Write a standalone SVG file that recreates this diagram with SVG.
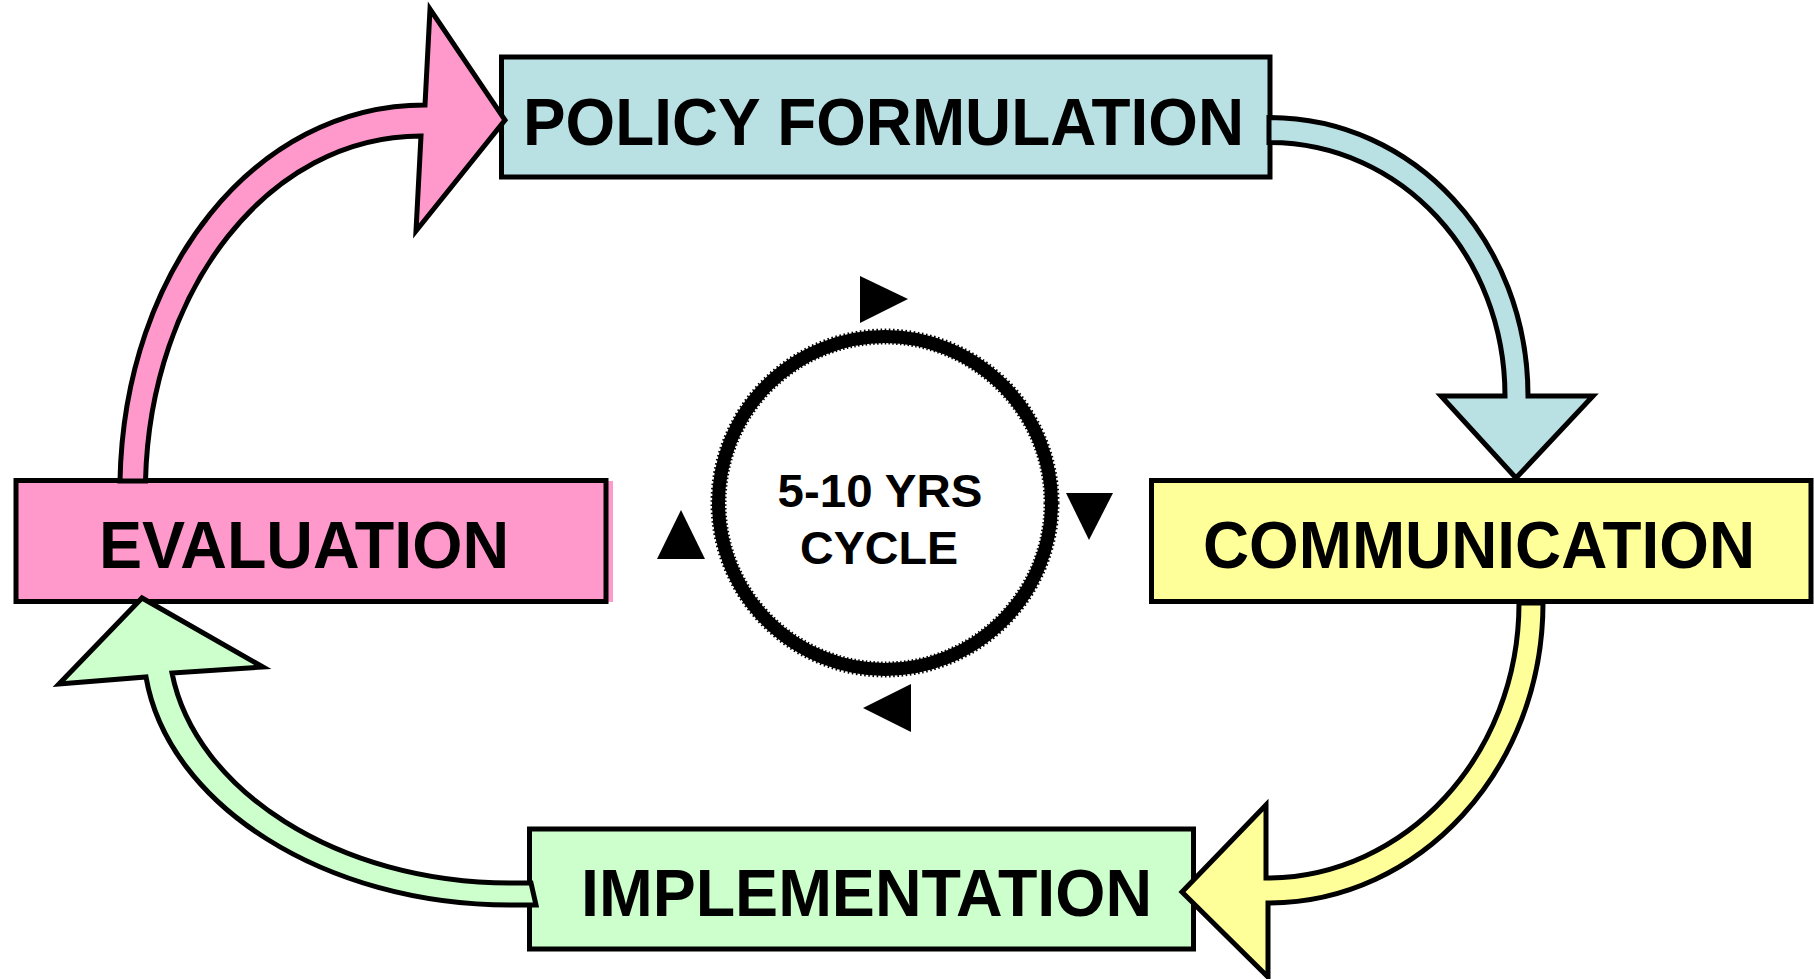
<svg xmlns="http://www.w3.org/2000/svg" width="1814" height="979" viewBox="0 0 1814 979">
<style>
.box{stroke:#000;stroke-width:5;}
.lbl{font-family:"Liberation Sans",Arial,Helvetica,sans-serif;font-weight:bold;font-size:66px;fill:#000;text-anchor:middle;}
.mid{font-family:"Liberation Sans",Arial,Helvetica,sans-serif;font-weight:bold;font-size:47px;fill:#000;text-anchor:middle;}
.arr{stroke:#000;stroke-width:5;stroke-linejoin:miter;stroke-miterlimit:10;}
.tri{fill:#000;}
</style>
<rect width="1814" height="979" fill="#fff"/>
<g id="node-policy">
<rect class="box" x="501.5" y="57" width="768.5" height="120" fill="#B9E0E3"/>
<text class="lbl" x="883.5" y="145" textLength="721" lengthAdjust="spacingAndGlyphs">POLICY FORMULATION</text>
</g>
<g id="node-communication">
<rect class="box" x="1151.5" y="480.5" width="659.5" height="121" fill="#FFFF99"/>
<text class="lbl" x="1479" y="568" textLength="552" lengthAdjust="spacingAndGlyphs">COMMUNICATION</text>
</g>
<g id="node-evaluation">
<rect x="608" y="481" width="5" height="121" fill="#FF99CC"/>
<rect class="box" x="16" y="480.5" width="590" height="121" fill="#FF99CC"/>
<text class="lbl" x="304" y="568" textLength="410" lengthAdjust="spacingAndGlyphs">EVALUATION</text>
</g>
<g id="node-implementation">
<rect class="box" x="529.5" y="829" width="664" height="120" fill="#CCFFCC"/>
<text class="lbl" x="866.5" y="916" textLength="571" lengthAdjust="spacingAndGlyphs">IMPLEMENTATION</text>
</g>
<g id="connectors">
<path id="arrow-eval-policy" class="arr" fill="#FF99CC" d="M 120,481 C 124,270 255,105 425,105 L 430,9 L 505,120 L 416,231 L 421,136 C 268,136 150,290 145.5,481 Z"/>
<path id="arrow-policy-comm" class="arr" fill="#B9E0E3" d="M 1269,117.5 C 1415,117.5 1528,242 1528,396 L 1593,396 L 1516,478 L 1441,396 L 1505,396 C 1505,256 1402,142.5 1269,142.5 Z"/>
<path id="arrow-comm-impl" class="arr" fill="#FFFF99" d="M 1543,603 C 1543,769 1420,903 1268,903 L 1268,977 L 1182,892 L 1266,805 L 1266,878 C 1406,878 1519,755 1519,603 Z"/>
<path id="arrow-impl-eval" class="arr" fill="#CCFFCC" d="M 536,905 L 510,905 C 325,905 168,805 146,677 L 59,684 L 142,598 L 263,667 L 172,673 C 195,790 338,883 510,883 L 531,883 Z"/>
</g>
<g id="cycle">
<circle cx="885" cy="503" r="166.5" fill="none" stroke="#000" stroke-width="13"/>
<circle cx="885" cy="503" r="166.5" fill="none" stroke="#000" stroke-width="16" stroke-dasharray="1.5 2.5"/>
<text class="mid" x="880" y="507" textLength="205" lengthAdjust="spacingAndGlyphs">5-10 YRS</text>
<text class="mid" x="879" y="564" textLength="158" lengthAdjust="spacingAndGlyphs">CYCLE</text>
<polygon class="tri" points="860,276 860,323 908,299"/>
<polygon class="tri" points="1066,493 1113,493 1089,540"/>
<polygon class="tri" points="911,684 911,732 863,708"/>
<polygon class="tri" points="657,559 705,559 681,510"/>
</g>
</svg>
